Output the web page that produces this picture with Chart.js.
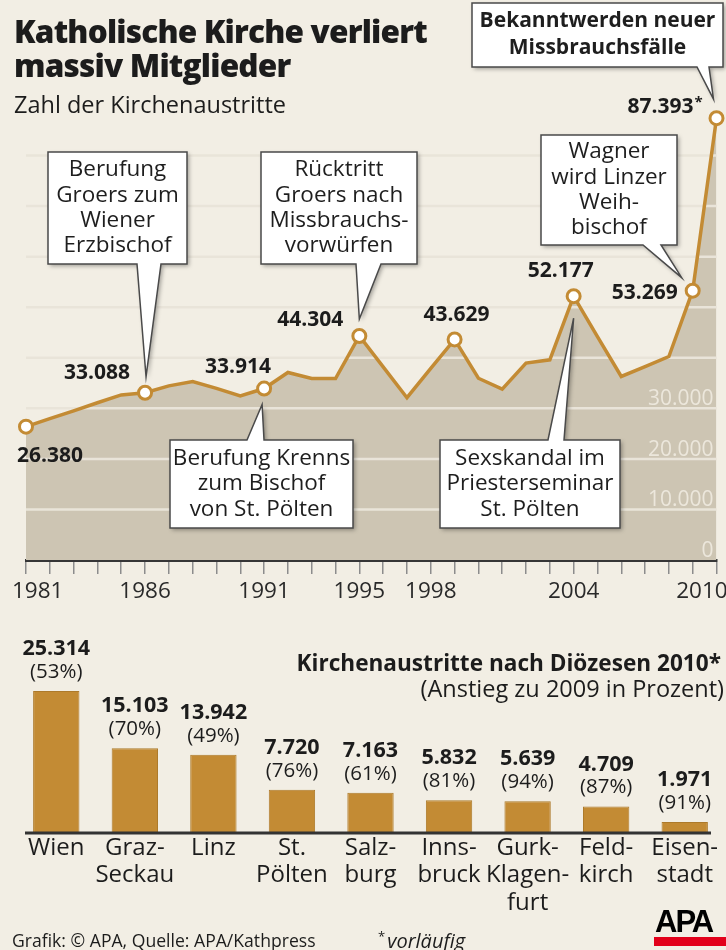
<!DOCTYPE html>
<html><head><meta charset="utf-8">
<script src="https://cdn.jsdelivr.net/npm/chart.js@4.4.1/dist/chart.umd.min.js"></script>
<style>
html,body{margin:0;padding:0;background:#f2eee4;}
body{width:726px;height:950px;position:relative;overflow:hidden;font-family:"Open Sans",sans-serif;color:#1c1c1c;}
canvas{position:absolute;left:0;}
#c1{top:0;}
#c2{top:620px;}
.t{position:absolute;white-space:nowrap;}
#title{left:14px;top:14px;font-size:31.5px;font-weight:800;line-height:34px;letter-spacing:-0.8px;}
#sub{left:14px;top:88px;font-size:23.5px;line-height:32px;}
#bh{right:5px;top:647px;font-size:22.6px;font-weight:700;line-height:32px;}
#bs{right:2px;top:672px;font-size:23.5px;line-height:32px;}
#foot{left:12px;top:927px;font-size:17.6px;line-height:26px;}
#vl{left:378px;top:922px;font-size:20px;font-style:italic;line-height:28px;}
#vl sup{font-size:13px;font-style:normal;vertical-align:7px;margin-right:2px;}
#apa{left:655px;top:905px;width:71px;height:42px;}
#apa .w{position:absolute;left:0;top:0;font-family:"Liberation Sans",Arial,sans-serif;font-weight:700;font-size:31px;letter-spacing:-2px;line-height:34px;color:#000;}
#apa .r{position:absolute;left:-1px;top:32px;width:72px;height:9px;background:#e2001a;}
</style></head>
<body>
<canvas id="c1" width="726" height="620"></canvas>
<canvas id="c2" width="726" height="330"></canvas>
<div class="t" id="title">Katholische Kirche verliert<br>massiv Mitglieder</div>
<div class="t" id="sub">Zahl der Kirchenaustritte</div>
<div class="t" id="bh">Kirchenaustritte nach Diözesen 2010*</div>
<div class="t" id="bs">(Anstieg zu 2009 in Prozent)</div>
<div class="t" id="foot">Grafik: © APA, Quelle: APA/Kathpress</div>
<div class="t" id="vl"><sup>*</sup>vorläufig</div>
<div class="t" id="apa"><div class="w">APA</div><div class="r"></div></div>
<script>
// ---------- data ----------
const years = [1981,1982,1983,1984,1985,1986,1987,1988,1989,1990,1991,1992,1993,1994,1995,1996,1997,1998,1999,2000,2001,2002,2003,2004,2005,2006,2007,2008,2009,2010];
const austritte = [26380,27950,29500,31100,32650,33088,34450,35300,33950,32450,33914,37100,35900,35900,44304,38200,32100,37900,43629,35950,33800,38950,39600,52177,44200,36300,38250,40250,53269,87393];
const yearTickLabels = [1981,1986,1991,1995,1998,2004,2010];
const yTickValues = [0,10000,20000,30000];
const yGridStep = 10000;
const highlightYears = [1981,1986,1991,1995,1999,2004,2009,2010];
const valueSuffix = {2010:'*'};

const dioezesen = [['Wien'],['Graz-','Seckau'],['Linz'],['St.','Pölten'],['Salz-','burg'],['Inns-','bruck'],['Gurk-','Klagen-','furt'],['Feld-','kirch'],['Eisen-','stadt']];
const austritte2010 = [25314,15103,13942,7720,7163,5832,5639,4709,1971];
const anstiegProzent = [53,70,49,76,61,81,94,87,91];

// ---------- styles / layout ----------
const GOLD = '#c38b34';
const FILL = '#cdc5b3';
const GRID = '#e9e4d9';
const FONT = '"Open Sans", sans-serif';
const labelOffsets = {1981:[24,29],1986:[-48,-20],1991:[-26,-22],1995:[-49,-16],1999:[2,-24],2004:[-13,-25],2009:[-48,2],2010:[-56,-11]};
const edgeLabelPad = {first:'    ', last:'     '};
const callouts = [
  {year:1986, lines:['Berufung','Groers zum','Wiener','Erzbischof'], box:[48,152,187,264], side:'bottom', base:[137,161], tip:[1,-16]},
  {year:1995, lines:['Rücktritt','Groers nach','Missbrauchs-','vorwürfen'], box:[261,152,417,264], side:'bottom', base:[356,381], tip:[0,-17]},
  {year:1991, lines:['Berufung Krenns','zum Bischof','von St. Pölten'], box:[170,440,353,528], side:'top', base:[247,264], tip:[-2,16]},
  {year:2004, lines:['Sexskandal im','Priesterseminar','St. Pölten'], box:[440,440,620,528], side:'top', base:[548,564], tip:[0,22]},
  {year:2009, lines:['Wagner','wird Linzer','Weih-','bischof'], box:[541,135,677,245], side:'bottom', base:[643,661], tip:[-11,-13]},
  {year:2010, lines:['Bekanntwerden neuer','Missbrauchsfälle'], box:[472,3,723,67], side:'bottom', base:[697,709], tip:[-3,-19], bold:true, size:21, lh:27}
];

function fmt(n){return String(n).replace(/\B(?=(\d{3})+(?!\d))/g,'.');}

const lineDecor = {
  id:'lineDecor',
  afterDatasetDraw(chart, args){
    if (args.index !== 0) return;            // right after the filled area
    const {ctx, chartArea:a, scales:{y}} = chart;
    ctx.save();
    ctx.setLineDash([]);
    ctx.globalAlpha = 1;
    ctx.strokeStyle = GRID; ctx.lineWidth = 2.5;
    for (let v = yGridStep; v <= y.max; v += yGridStep){
      const py = y.getPixelForValue(v);
      if (py <= a.top) break;
      ctx.beginPath(); ctx.moveTo(a.left, py); ctx.lineTo(a.right, py); ctx.stroke();
    }
    ctx.fillStyle = '#ece7dc'; ctx.font = '21px ' + FONT;
    ctx.textAlign = 'right'; ctx.textBaseline = 'alphabetic';
    yTickValues.forEach(v => ctx.fillText(fmt(v), a.right - 3, y.getPixelForValue(v) - 3));
    ctx.restore();
  },
  afterDatasetsDraw(chart){
    const {ctx} = chart;
    const meta = chart.getDatasetMeta(1);
    ctx.save();
    ctx.fillStyle = '#1c1c1c'; ctx.textBaseline = 'middle';
    highlightYears.forEach(yr => {
      const i = years.indexOf(yr); const p = meta.data[i]; const o = labelOffsets[yr];
      const txt = fmt(austritte[i]);
      ctx.font = 'bold 21px ' + FONT; ctx.textAlign = 'center';
      const cx = p.x + o[0], cy = p.y + o[1];
      ctx.fillText(txt, cx, cy);
      if (valueSuffix[yr]) {
        const w = ctx.measureText(txt).width;
        ctx.font = 'bold 15px ' + FONT; ctx.textAlign = 'left';
        ctx.fillText(valueSuffix[yr], cx + w/2 + 1, cy - 4);
      }
    });
    ctx.restore();
  },
  afterDraw(chart){
    const {ctx} = chart;
    const meta = chart.getDatasetMeta(1);
    callouts.forEach(c => {
      const p = meta.data[years.indexOf(c.year)];
      const tx = p.x + c.tip[0], ty = p.y + c.tip[1];
      const [x0,y0,x1,y1] = c.box;
      ctx.save();
      ctx.beginPath();
      if (c.side === 'bottom'){
        ctx.moveTo(x0,y0); ctx.lineTo(x1,y0); ctx.lineTo(x1,y1); ctx.lineTo(c.base[1],y1); ctx.lineTo(tx,ty); ctx.lineTo(c.base[0],y1); ctx.lineTo(x0,y1);
      } else {
        ctx.moveTo(x0,y0); ctx.lineTo(c.base[0],y0); ctx.lineTo(tx,ty); ctx.lineTo(c.base[1],y0); ctx.lineTo(x1,y0); ctx.lineTo(x1,y1); ctx.lineTo(x0,y1);
      }
      ctx.closePath();
      ctx.shadowColor = 'rgba(0,0,0,0.35)'; ctx.shadowBlur = 4; ctx.shadowOffsetX = 2; ctx.shadowOffsetY = 2;
      ctx.fillStyle = '#ffffff'; ctx.fill();
      ctx.shadowColor = 'transparent';
      ctx.strokeStyle = '#4a4a4a'; ctx.lineWidth = 1.5; ctx.lineJoin = 'miter'; ctx.stroke();
      ctx.fillStyle = '#1e1e1e';
      ctx.font = (c.bold ? 'bold ' : '') + (c.size || 22.5) + 'px ' + FONT;
      ctx.textAlign = 'center'; ctx.textBaseline = 'middle';
      const lh = c.lh || 25.3; const cx = (x0+x1)/2, cy = (y0+y1)/2;
      c.lines.forEach((l,k) => ctx.fillText(l, cx, cy + (k - (c.lines.length-1)/2)*lh));
      ctx.restore();
    });
  }
};

new Chart(document.getElementById('c1'), {
  type:'line',
  data:{
    labels: years,
    datasets:[
      { // filled area
        data: austritte, order: 2,
        borderWidth: 0, borderColor: 'rgba(0,0,0,0)', pointRadius: 0, pointHoverRadius: 0,
        backgroundColor: FILL, fill: 'origin', tension: 0
      },
      { // line with markers
        data: austritte, order: 1,
        borderColor: GOLD, borderWidth: 3.5, fill: false,
        tension: 0, clip: false,
        pointRadius: years.map(y => highlightYears.includes(y) ? 6.5 : 0),
        pointHoverRadius: 0,
        pointBackgroundColor: '#ffffff', pointBorderColor: GOLD, pointBorderWidth: 3
      }
    ]
  },
  options:{
    responsive:false, devicePixelRatio:1, animation:false,
    layout:{padding:{left:26, right:9, top:105, bottom:20}},
    plugins:{legend:{display:false}, tooltip:{enabled:false}},
    scales:{
      x:{
        type:'category', offset:false,
        grid:{drawOnChartArea:false, drawTicks:true, tickLength:14, color:'#8c8c8c', lineWidth:1.5},
        border:{display:true, color:'#363636', width:3},
        ticks:{autoSkip:false, maxRotation:0, padding:4, color:'#2a2a2a', font:{family:FONT, size:22.5},
          callback(v,i){
            const yr = years[i];
            if (!yearTickLabels.includes(yr)) return '';
            if (i === 0) return edgeLabelPad.first + yr;
            if (i === years.length-1) return yr + edgeLabelPad.last;
            return String(yr);
          }},
        afterFit(s){ s.paddingLeft = 0; s.paddingRight = 0; s.height = 40; }
      },
      y:{ display:false, min:0, max:90000 }
    }
  },
  plugins:[lineDecor]
});

const barDecor = {
  id:'barDecor',
  afterDatasetsDraw(chart){
    const {ctx, chartArea:a, scales:{y}} = chart;
    const meta = chart.getDatasetMeta(0);
    ctx.save();
    ctx.textAlign = 'center'; ctx.textBaseline = 'middle'; ctx.fillStyle = '#1c1c1c';
    meta.data.forEach((b,i) => {
      ctx.font = 'bold 21.5px ' + FONT; ctx.fillText(fmt(austritte2010[i]), b.x, b.y - 42);
      ctx.font = '20.5px ' + FONT; ctx.fillText('(' + anstiegProzent[i] + '%)', b.x, b.y - 19);
    });
    const by = y.getPixelForValue(0);
    ctx.strokeStyle = '#333'; ctx.lineWidth = 3;
    ctx.beginPath(); ctx.moveTo(a.left + 8, by); ctx.lineTo(a.right - 13, by); ctx.stroke();
    ctx.restore();
  }
};

new Chart(document.getElementById('c2'), {
  type:'bar',
  data:{
    labels: dioezesen,
    datasets:[{data: austritte2010, backgroundColor: GOLD, borderColor:'#ad7a2b', borderWidth:1, barPercentage:0.59, categoryPercentage:1}]
  },
  options:{
    responsive:false, devicePixelRatio:1, animation:false,
    layout:{padding:{left:17, right:2, top:39, bottom:17}},
    plugins:{legend:{display:false}, tooltip:{enabled:false}},
    scales:{
      x:{
        grid:{display:false, drawTicks:false}, border:{display:false},
        ticks:{padding:1, color:'#1c1c1c', font:{family:FONT, size:24, lineHeight:1.146}, maxRotation:0, autoSkip:false},
        afterFit(s){ s.paddingLeft = 0; s.paddingRight = 0; s.height = 100; }
      },
      y:{display:false, min:0, max:31000}
    }
  },
  plugins:[barDecor]
});
</script>
</body></html>
